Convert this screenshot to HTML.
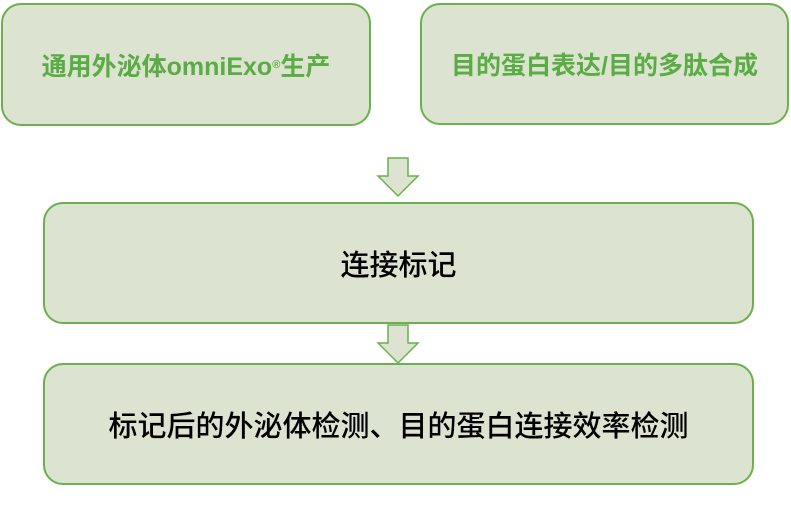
<!DOCTYPE html>
<html><head><meta charset="utf-8"><style>
body{margin:0;width:791px;height:524px;background:#fff;position:relative;overflow:hidden;font-family:"Liberation Sans","Noto Sans CJK SC",sans-serif}
.b{position:absolute;box-sizing:border-box;background:#dce3d1;border:2px solid #6ab04c;border-radius:20px;display:flex;align-items:center;justify-content:center;white-space:nowrap}
.g{color:#5aac44;font-weight:bold;font-size:25px}
.k{color:#000;font-size:29px;font-weight:500}
</style></head><body>
<div class="b g" style="left:1px;top:3px;width:370px;height:123px">通用外泌体omniExo<sup style="font-size:11px">®</sup>生产</div>
<div class="b g" style="left:420px;top:3px;width:369px;height:122px">目的蛋白表达/目的多肽合成</div>
<div class="b k" style="left:43px;top:202px;width:711px;height:122px">连接标记</div>
<div class="b k" style="left:43px;top:363px;width:711px;height:122px">标记后的外泌体检测、目的蛋白连接效率检测</div>
<svg style="position:absolute;left:0;top:0" width="791" height="524">
<polygon points="388,158 408,158 408,176 418,176 398,196 378,176 388,176" fill="#dce3d1" stroke="#6ab04c" stroke-width="1.5"/>
<polygon points="388,325 408,325 408,343 418,343 398,363 378,343 388,343" fill="#dce3d1" stroke="#6ab04c" stroke-width="1.5"/>
</svg>
</body></html>
